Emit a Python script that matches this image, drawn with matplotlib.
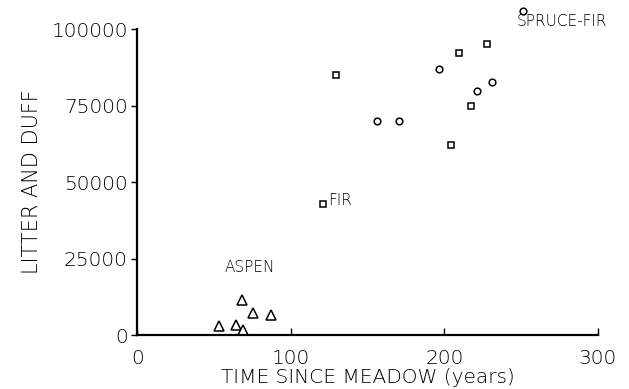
import matplotlib.pyplot as plt

# ---------------------------------------------------------
# Data
# ---------------------------------------------------------
aspen_x = [53, 64, 69, 68, 75, 87]
aspen_y = [3000, 3200, 1500, 11500, 7200, 6500]

fir_x = [120.6, 129, 204, 209.6, 217.5, 228]
fir_y = [42700, 85000, 62000, 92200, 75000, 95000]

spruce_x = [156, 170.5, 196.5, 221, 231, 251]
spruce_y = [69800, 69800, 87000, 79700, 82600, 106000]

x_ticks = [0, 100, 200, 300]
y_ticks = [0, 25000, 50000, 75000, 100000]

# ---------------------------------------------------------
# Figure
# ---------------------------------------------------------
plt.rcParams['font.family'] = ['DejaVu Sans']

fig = plt.figure(figsize=(6.29, 3.89), dpi=100)
ax = fig.add_axes([0.2186, 0.1388, 0.7321, 0.7866])

ax.plot(aspen_x, aspen_y, linestyle='none', marker='^', markersize=7.5,
        markerfacecolor='white', markeredgecolor='black', markeredgewidth=1.1,
        clip_on=False)
ax.plot(fir_x, fir_y, linestyle='none', marker='s', markersize=4.2,
        markerfacecolor='white', markeredgecolor='black', markeredgewidth=1.1,
        clip_on=False)
ax.plot(spruce_x, spruce_y, linestyle='none', marker='o', markersize=4.8,
        markerfacecolor='white', markeredgecolor='black', markeredgewidth=1.1,
        clip_on=False)

# group labels
ax.text(247, 102600, "SPRUCE-FIR", fontsize=11, fontweight='light',
        va='center', ha='left')
ax.text(124.5, 43900, "FIR", fontsize=11, fontweight='light',
        va='center', ha='left')
ax.text(57, 21900, "ASPEN", fontsize=11, fontweight='light',
        va='center', ha='left')

# ---------------------------------------------------------
# Axes styling
# ---------------------------------------------------------
ax.set_xlim(0, 300)
ax.set_ylim(0, 100000)
ax.set_xticks(x_ticks)
ax.set_yticks(y_ticks)
ax.set_xticklabels([str(v) for v in x_ticks])
ax.set_yticklabels([str(v) for v in y_ticks])

for side in ['top', 'right']:
    ax.spines[side].set_visible(False)
for side in ['left', 'bottom']:
    ax.spines[side].set_linewidth(1.6)

ax.tick_params(axis='x', direction='in', length=5, width=1, labelsize=14.5,
               pad=10)
ax.tick_params(axis='y', direction='out', length=4, width=1, labelsize=14.5,
               pad=3)
for lab in ax.get_xticklabels() + ax.get_yticklabels():
    lab.set_fontweight('light')

ax.set_xlabel("TIME SINCE MEADOW (years)", fontsize=14.5, fontweight='light',
              labelpad=0)
ax.set_ylabel("LITTER AND DUFF", fontsize=15, fontweight='light', labelpad=7)

fig.savefig("out.png", dpi=100)
